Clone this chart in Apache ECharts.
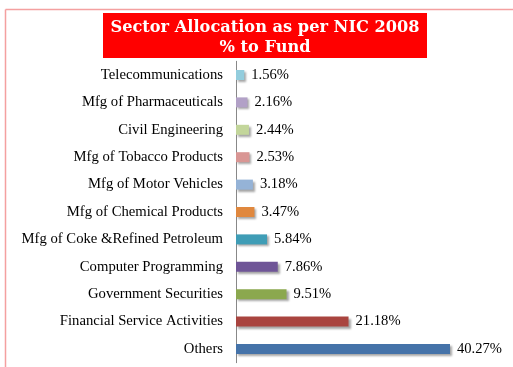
<!DOCTYPE html>
<html><head><meta charset="utf-8">
<script src="https://cdn.jsdelivr.net/npm/echarts@6/dist/echarts.min.js"></script>
<style>html,body{margin:0;padding:0;background:#fff}#c{width:513px;height:367px}</style>
</head><body><div id="c"></div>
<script>
const categories = ["Telecommunications","Mfg of Pharmaceuticals","Civil Engineering","Mfg of Tobacco Products","Mfg of Motor Vehicles","Mfg of Chemical Products","Mfg of Coke &Refined Petroleum","Computer Programming","Government Securities","Financial Service Activities","Others"];
const values = [1.56,2.16,2.44,2.53,3.18,3.47,5.84,7.86,9.51,21.18,40.27];
const colors = ["#93CDDD","#B2A1C7","#C3D69B","#D99694","#95B3D7","#E0883E","#3F9DB6","#6F5597","#8BA84E","#A9443F","#4573A9"];
const titleLines = ["Sector Allocation as per NIC 2008","% to Fund"];

const chart = echarts.init(document.getElementById('c'), null, {renderer:'canvas'});
chart.setOption({
  animation:false,
  backgroundColor:'#fff',
  graphic:[
    {type:'line', shape:{x1:5.5,y1:9.5,x2:513,y2:9.5}, style:{stroke:'#F4A0A0',lineWidth:1.5}},
    {type:'line', shape:{x1:5.5,y1:9.5,x2:5.5,y2:367}, style:{stroke:'#F4A0A0',lineWidth:1.5}},
    {type:'rect', shape:{x:103,y:13,width:324,height:45}, style:{fill:'#FF0000'}},
    {type:'text', x:265, y:17.5, style:{text:titleLines.join('\n'), fill:'#fff', font:'bold 16.2px "DejaVu Serif"', align:'center', verticalAlign:'top', lineHeight:20}}
  ],
  grid:{left:236, top:61.3, height:301.4, width:265.7, containLabel:false},
  xAxis:{type:'value', min:0, max:50, show:false},
  yAxis:{type:'category', data:categories, inverse:true,
    axisLine:{lineStyle:{color:'#888',width:1}},
    axisTick:{length:4, lineStyle:{color:'#888'}},
    axisLabel:{color:'#000', fontFamily:'"Liberation Serif"', fontSize:14.7, margin:13}
  },
  series:[{
    type:'bar', data:values.map((v,i)=>({value:v, itemStyle:{color:colors[i]}})),
    barWidth:10,
    itemStyle:{shadowColor:'rgba(0,0,0,0.35)', shadowBlur:2, shadowOffsetX:2, shadowOffsetY:2},
    label:{show:true, position:'right', distance:7, color:'#000', fontFamily:'"Liberation Serif"', fontSize:14.6, formatter:p=>p.value.toFixed(2)+'%'}
  }]
});
</script></body></html>
